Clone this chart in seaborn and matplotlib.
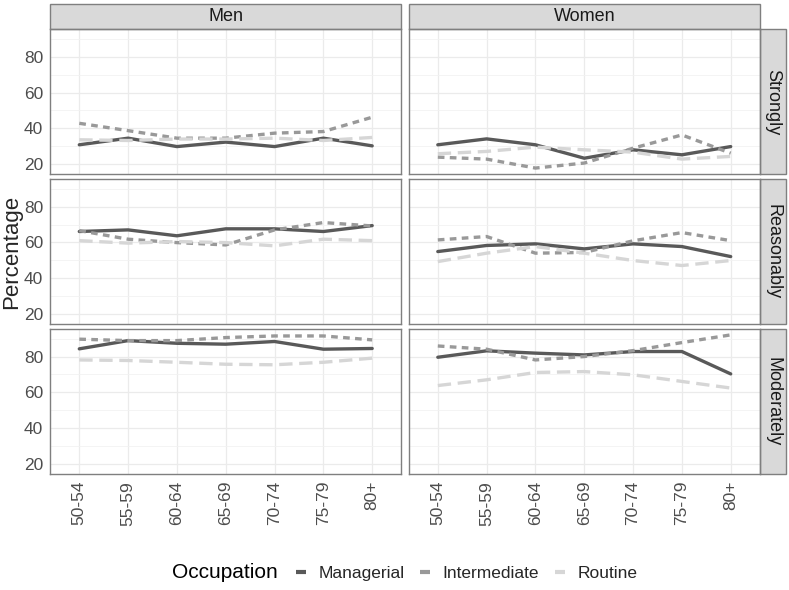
import numpy as np
import pandas as pd
import matplotlib.pyplot as plt
import seaborn as sns
from matplotlib.patches import Rectangle
from matplotlib.lines import Line2D

# Data
age_groups = ["50-54", "55-59", "60-64", "65-69", "70-74", "75-79", "80+"]
sexes = ["Men", "Women"]
levels = ["Strongly", "Reasonably", "Moderately"]
occupations = ["Managerial", "Intermediate", "Routine"]

men_strongly_managerial = [30.8, 34.5, 29.8, 32.3, 29.8, 34.5, 30.2]
men_strongly_intermediate = [42.8, 38.7, 34.5, 34.5, 37.3, 38.2, 46.2]
men_strongly_routine = [33.6, 33.2, 34.0, 34.0, 34.5, 33.2, 34.9]

women_strongly_managerial = [30.8, 34.1, 30.8, 23.3, 28.0, 25.2, 29.8]
women_strongly_intermediate = [23.9, 22.8, 17.8, 20.6, 28.9, 36.3, 26.1]
women_strongly_routine = [25.8, 27.1, 29.5, 28.0, 26.7, 22.8, 24.3]

men_reasonably_managerial = [66.1, 67.0, 63.7, 67.6, 67.6, 66.1, 69.4]
men_reasonably_intermediate = [66.6, 61.8, 59.9, 58.6, 67.0, 71.1, 69.2]
men_reasonably_routine = [61.0, 59.6, 60.5, 59.9, 58.1, 61.8, 61.0]

women_reasonably_managerial = [54.9, 58.3, 59.2, 56.4, 59.2, 57.7, 52.1]
women_reasonably_intermediate = [61.4, 63.3, 54.0, 54.4, 60.9, 65.5, 61.0]
women_reasonably_routine = [49.3, 54.0, 57.7, 54.0, 49.9, 47.1, 49.9]

men_moderately_managerial = [84.3, 88.9, 87.4, 86.9, 88.4, 84.1, 84.5]
men_moderately_intermediate = [89.7, 88.9, 88.9, 90.6, 91.5, 91.5, 89.3]
men_moderately_routine = [78.1, 77.8, 76.8, 75.7, 75.4, 76.8, 79.1]

women_moderately_managerial = [79.6, 83.2, 81.9, 80.9, 82.8, 82.8, 70.3]
women_moderately_intermediate = [85.9, 84.1, 78.1, 80.0, 83.3, 87.8, 92.1]
women_moderately_routine = [63.8, 67.0, 71.1, 71.6, 69.8, 66.1, 62.4]

series = {
    ("Men", "Strongly"): [men_strongly_managerial, men_strongly_intermediate, men_strongly_routine],
    ("Women", "Strongly"): [women_strongly_managerial, women_strongly_intermediate, women_strongly_routine],
    ("Men", "Reasonably"): [men_reasonably_managerial, men_reasonably_intermediate, men_reasonably_routine],
    ("Women", "Reasonably"): [women_reasonably_managerial, women_reasonably_intermediate, women_reasonably_routine],
    ("Men", "Moderately"): [men_moderately_managerial, men_moderately_intermediate, men_moderately_routine],
    ("Women", "Moderately"): [women_moderately_managerial, women_moderately_intermediate, women_moderately_routine],
}

rows = []
for (sex, level), vals in series.items():
    for occ, v in zip(occupations, vals):
        for age, p in zip(age_groups, v):
            rows.append({"Sex": sex, "Level": level, "Occupation": occ,
                         "Age": age, "Percentage": p})
df = pd.DataFrame(rows)
df["x"] = df["Age"].map({a: i for i, a in enumerate(age_groups)})

# Style
sns.set_style("white")
plt.rcParams["font.family"] = ["Liberation Sans", "DejaVu Sans"]

palette = {"Managerial": "#595959", "Intermediate": "#999999", "Routine": "#d6d6d6"}
dashes = {"Managerial": "", "Intermediate": (2, 1.6), "Routine": (4, 2)}

fig, axes = plt.subplots(3, 2, figsize=(7.89, 5.9), dpi=100, sharex=True, sharey=True)
fig.subplots_adjust(left=50 / 789, right=760 / 789, top=1 - 29.3 / 590,
                    bottom=1 - 474 / 590, wspace=0.02, hspace=0.035)

border = "#7f7f7f"
strip_fill = "#d9d9d9"

for r, level in enumerate(levels):
    for c, sex in enumerate(sexes):
        ax = axes[r, c]
        sub = df[(df["Sex"] == sex) & (df["Level"] == level)]
        sns.lineplot(data=sub, x="x", y="Percentage", hue="Occupation",
                     style="Occupation", hue_order=occupations,
                     style_order=occupations, palette=palette, dashes=dashes,
                     linewidth=2.4, legend=False, ax=ax)
        ax.set_xlim(-0.6, 6.6)
        ax.set_ylim(14.4, 95.3)
        ax.set_yticks([20, 40, 60, 80])
        ax.set_yticks([30, 50, 70, 90], minor=True)
        ax.set_xticks(range(len(age_groups)))
        ax.set_xticklabels(age_groups, rotation=90)
        ax.grid(True, which="major", color="#ebebeb", linewidth=0.9)
        ax.grid(True, which="minor", axis="y", color="#f2f2f2", linewidth=0.6)
        ax.set_axisbelow(True)
        for s in ax.spines.values():
            s.set_color(border)
            s.set_linewidth(1.0)
        ax.tick_params(axis="both", which="major", length=3, color="#333333",
                       labelsize=12.5, labelcolor="#4d4d4d", pad=2)
        ax.tick_params(axis="both", which="minor", length=0)
        ax.set_xlabel("")
        ax.set_ylabel("")

        if r == 0:
            ax.add_patch(Rectangle((0, 1.0), 1, 25 / 145, transform=ax.transAxes,
                                   facecolor=strip_fill, edgecolor=border,
                                   linewidth=1.0, clip_on=False))
            ax.text(0.5, 1 + 12.5 / 145, sex, transform=ax.transAxes,
                    ha="center", va="center", fontsize=13, color="#1a1a1a")
        if c == 1:
            ax.add_patch(Rectangle((1.0, 0), 26 / 354, 1, transform=ax.transAxes,
                                   facecolor=strip_fill, edgecolor=border,
                                   linewidth=1.0, clip_on=False))
            ax.text(1 + 13 / 354, 0.5, level, transform=ax.transAxes,
                    ha="center", va="center", rotation=-90, fontsize=13,
                    color="#1a1a1a")

# Legend
handles = [Line2D([0], [0], color=palette[o], linewidth=3, solid_capstyle="butt")
           for o in occupations]
fig.text(172 / 789, 1 - 573 / 590, "Occupation", ha="left", va="center",
         fontsize=15, color="black")
fig.legend(handles, occupations, loc="center left",
           bbox_to_anchor=(280 / 789, 1 - 573 / 590),
           ncol=3, frameon=False, fontsize=12.5, handlelength=0.6,
           handletextpad=0.7, columnspacing=0.9)

fig.text(12 / 789, 0.5 * ((1 - 29.3 / 590) + (1 - 474 / 590)), "Percentage",
         rotation=90, ha="center", va="center", fontsize=16)

plt.savefig("out.png", dpi=100)
